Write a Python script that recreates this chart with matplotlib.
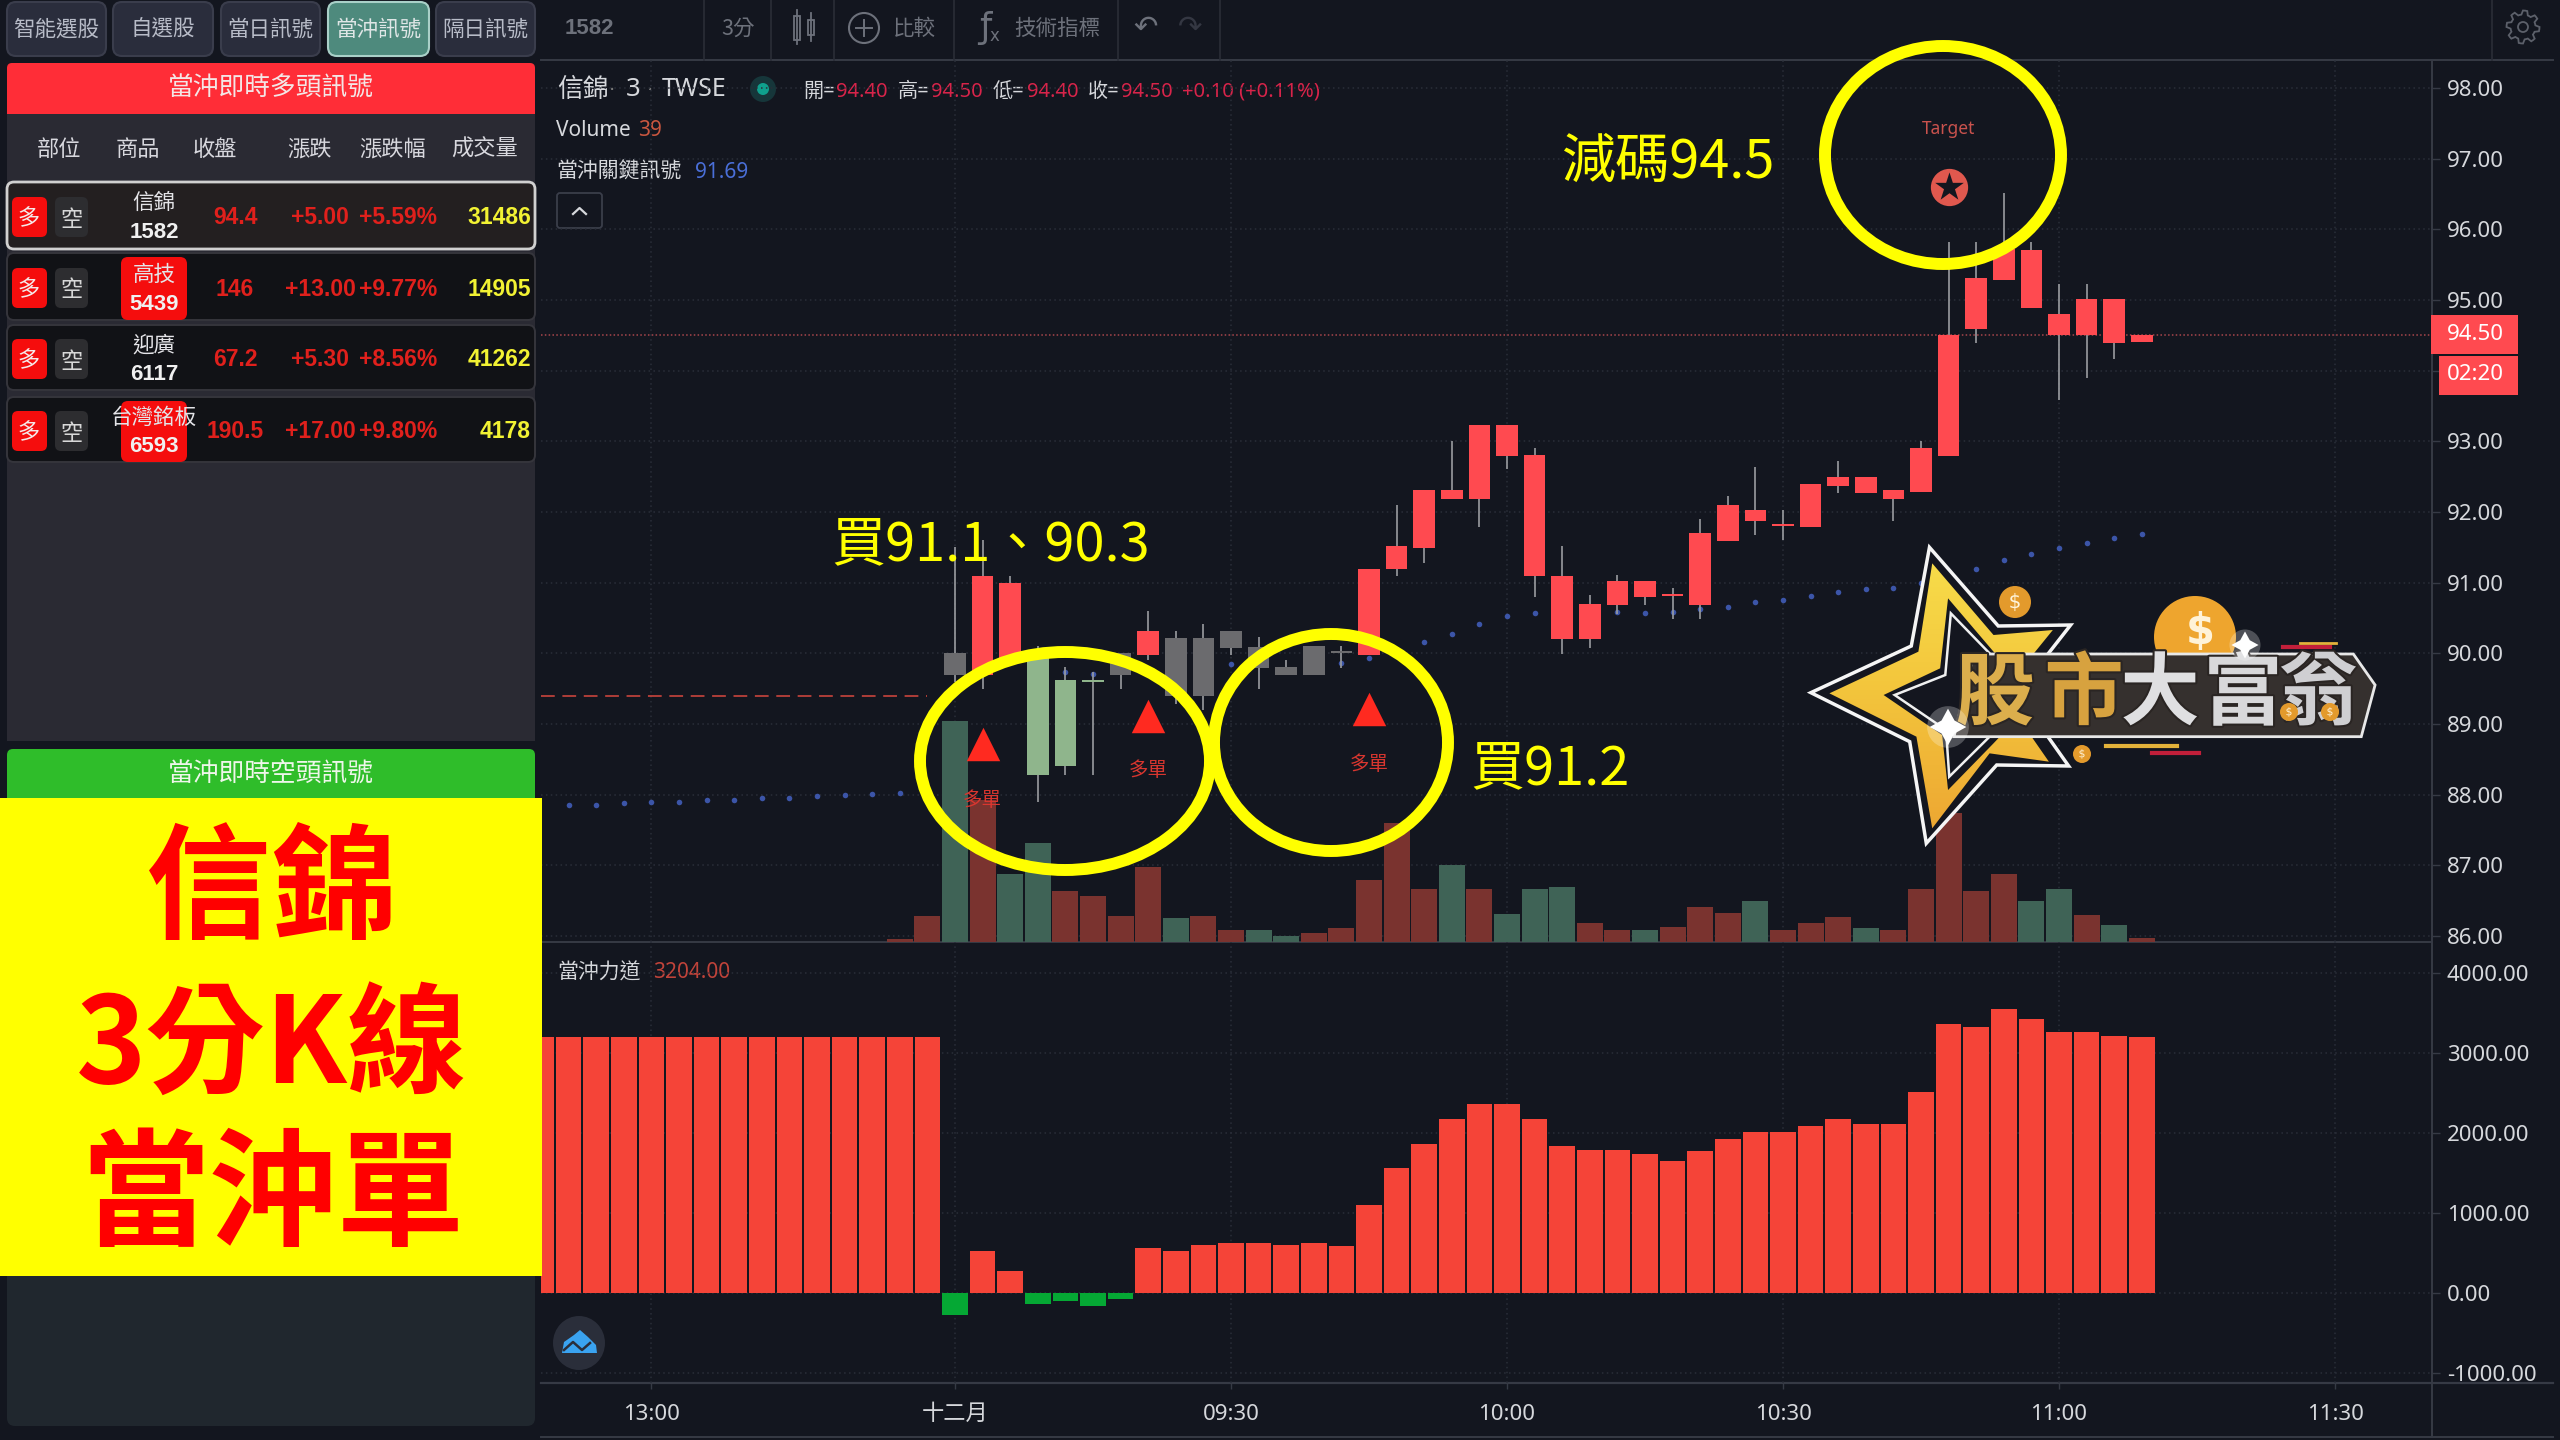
import numpy as np
import matplotlib
matplotlib.use("Agg")
import matplotlib.pyplot as plt
from matplotlib.patches import Rectangle, FancyBboxPatch, Circle, Ellipse, Polygon
from matplotlib.colors import LinearSegmentedColormap
import matplotlib.patheffects as pe

plt.rcParams['font.family'] = ['Noto Sans CJK TC', 'DejaVu Sans']

# ---------- data ----------
candle_idx = list(range(44))
body_hi = [90.00,91.10,91.00,89.98,89.62,89.60,90.00,90.32,90.22,90.22,90.32,90.09,89.81,90.10,90.00,91.20,
           91.52,92.31,92.31,93.23,93.23,92.81,91.10,90.70,91.02,91.02,90.81,91.71,92.10,92.03,91.80,92.40,
           92.50,92.50,92.31,92.91,94.50,95.31,95.72,95.71,94.80,95.02,95.02,94.50]
body_lo = [89.69,89.70,89.90,88.28,88.40,89.60,89.69,89.98,89.39,89.39,90.08,89.79,89.69,89.69,90.00,89.98,
           91.19,91.49,92.19,92.19,92.79,91.09,90.20,90.20,90.68,90.80,90.81,90.68,91.59,91.88,91.80,91.79,
           92.37,92.27,92.19,92.28,92.79,94.59,95.29,94.88,94.50,94.50,94.39,94.40]
wick_hi = [91.50,91.60,91.10,90.10,89.80,89.74,90.00,90.60,90.32,90.41,90.32,90.23,89.90,90.10,90.10,91.20,
           92.10,92.31,93.00,93.23,93.23,92.91,91.52,90.83,91.11,91.02,90.93,91.90,92.22,92.63,92.03,92.40,
           92.72,92.50,92.31,93.00,95.82,95.82,96.51,95.82,95.22,95.22,95.02,94.50]
wick_lo = [89.60,89.50,89.90,87.90,88.28,88.28,89.50,89.90,89.29,89.20,89.98,89.50,89.69,89.69,89.79,89.98,
           91.09,91.28,92.19,91.79,92.61,90.80,89.99,90.07,90.55,90.68,90.48,90.48,91.59,91.68,91.60,91.79,
           92.27,92.27,91.88,92.28,92.79,94.39,95.29,94.88,93.59,93.90,94.17,94.40]
candle_kind = list("grrpppgrggggggg" + "r" * 29)   # g=gray, r=red, p=pale green

volume_idx = [-2,-1] + candle_idx
volume = [25,260,2210,1420,680,990,510,460,260,750,240,260,120,120,60,90,140,620,1190,530,770,530,280,530,550,190,
          120,120,150,350,290,410,120,190,250,140,120,530,1290,510,680,410,530,270,170,40]
volume_up = {0,2,3,8,11,12,18,20,21,22,25,29,33,39,40,42}

power_idx = list(range(-15, 44))
power = [3200]*15 + [-280,520,270,-135,-95,-160,-70,560,520,605,625,625,605,625,585,1095,1560,1860,2180,2365,2365,2180,
                     1835,1790,1790,1735,1645,1775,1920,2010,2010,2090,2175,2110,2110,2510,3360,3320,3555,3425,3260,3260,3215,3204]

dot_idx = [-14,-13,-12,-11,-10,-9,-8,-7,-6,-5,-4,-3,-2,4,5,10,14,15,17,18,19,20,21,24,25,26,27,28,29,30,31,32,33,34,35,37,38,39,40,41,42,43]
dot_val = [87.85,87.86,87.88,87.89,87.90,87.92,87.93,87.95,87.96,87.98,87.99,88.01,88.02,89.74,89.71,89.85,89.87,89.94,
           90.16,90.27,90.42,90.53,90.57,90.59,90.57,90.59,90.63,90.66,90.72,90.76,90.81,90.87,90.91,90.93,91.00,
           91.20,91.32,91.41,91.49,91.56,91.63,91.69]

signal_idx = [1, 7, 15]
signal_price = [88.72, 89.11, 89.21]
signal_label_price = [87.92, 88.34, 88.43]
last_price = 94.50
prev_close = 89.39
target_idx, target_price, target_label_price = 36, 96.60, 97.42

price_ticks = [86,87,88,89,90,91,92,93,94,95,96,97,98]
power_ticks = [-1000,0,1000,2000,3000,4000]
time_ticks = [-11,0,10,20,30,40,50]
time_labels = ['13:00','十二月','09:30','10:00','10:30','11:00','11:30']

table_heads = ['部位','商品','收盤','漲跌','漲跌幅','成交量']
names = ['信錦','高技','迎廣','台灣銘板']
codes = ['1582','5439','6117','6593']
closes = ['94.4','146','67.2','190.5']
changes = ['+5.00','+13.00','+5.30','+17.00']
pcts = ['+5.59%','+9.77%','+8.56%','+9.80%']
vols = ['31486','14905','41262','4178']
tabs = ['智能選股','自選股','當日訊號','當沖訊號','隔日訊號']

# ---------- palette ----------
BG = '#13161f'; GRID = '#2a2e39'; AX = '#363a45'; TXT = '#d6d8dc'
RED = '#ff4a50'; VUP = '#3f6356'; VDN = '#7a332f'
BOLD = 'Liberation Sans'

fig = plt.figure(figsize=(25.6, 14.4), dpi=100, facecolor=BG)
W, H = 2560, 1440

def make_px_axes(z):
    a = fig.add_axes([0, 0, 1, 1], zorder=z)
    a.set_xlim(0, W); a.set_ylim(H, 0); a.axis('off'); a.patch.set_visible(False)
    return a

bg = make_px_axes(0)
top = make_px_axes(5)

def axes_rect(x0, y0, x1, y1):
    return [x0/W, 1 - y1/H, (x1-x0)/W, (y1-y0)/H]

def T(a, x, y, s, size, color=TXT, ha='center', va='center', **kw):
    return a.text(x, y + 2, s, fontsize=size, color=color, ha=ha, va=va, **kw)

def RR(a, x0, y0, x1, y1, r=6, fc='none', ec='none', lw=0, **kw):
    p = FancyBboxPatch((x0+r, y0+r), x1-x0-2*r, y1-y0-2*r, boxstyle=f'round,pad={r},rounding_size={r}',
                       fc=fc, ec=ec, lw=lw, mutation_aspect=1, **kw)
    a.add_patch(p); return p

# ---------- price pane ----------
X0, X1 = -15.0, (2432-955)/27.6
ax = fig.add_axes(axes_rect(541, 60, 2432, 942), zorder=1)
ax.patch.set_visible(False)
ax.set_xlim(X0, X1)
PY = 70.67
ax.set_ylim(98-(942-88)/PY, 98+(88-60)/PY)
base = ax.get_ylim()[0]
vscale = 1/(PY*10)

ax.bar(volume_idx, np.array(volume)*vscale, bottom=base, width=0.94,
       color=[VUP if i in volume_up else VDN for i in volume_idx], zorder=1)
ax.scatter(dot_idx, dot_val, s=16, color='#3c55a8', zorder=2, linewidths=0)
ax.hlines(prev_close, -15, -1, color='#d9483f', lw=1.1, linestyles=[(0, (9, 5))], zorder=2)
ax.axhline(last_price, color='#a8464c', lw=1.1, ls=(0, (1, 1.5)), zorder=2)

kind_col = {'g': '#6b6b6e', 'r': RED, 'p': '#8fb58c'}
ax.vlines(candle_idx, wick_lo, wick_hi, color='#9a9ca0', lw=1.2, zorder=3)
hts = np.maximum(np.array(body_hi) - np.array(body_lo), 0.03)
ax.bar(candle_idx, hts, bottom=body_lo, width=0.78, color=[kind_col[k] for k in candle_kind], zorder=4)

ax.scatter(signal_idx, signal_price, marker='^', s=580, color='#ff2a20', linewidths=0, zorder=5)
for i, p in zip(signal_idx, signal_label_price):
    ax.text(i, p, '多單', fontsize=14, color='#d9362f', ha='center', va='center', zorder=5)

ax.scatter([target_idx], [target_price], s=720, color='#e0584e', zorder=5, linewidths=0)
ax.scatter([target_idx], [target_price], marker='*', s=470, color='#14161f', zorder=6, linewidths=0)
ax.text(target_idx, target_label_price, 'Target', fontsize=12.5, color='#c9524d', ha='center', va='center',
        family='Noto Sans', zorder=5)

ax.set_yticks(price_ticks)
ax.set_yticklabels([f'{v:.2f}' for v in price_ticks], family='Noto Sans')
ax.set_xticks(time_ticks)
ax.grid(True, color=GRID, lw=1.1, ls=(0, (1, 2.2)), zorder=0)
ax.set_axisbelow(True)
ax.yaxis.tick_right()
ax.tick_params(axis='y', length=5.7, width=1, color=AX, labelcolor=TXT, labelsize=16, pad=5)
ax.tick_params(axis='x', length=0, labelbottom=False)
for s in ax.spines.values():
    s.set_visible(False)

# ---------- power pane ----------
ax2 = fig.add_axes(axes_rect(541, 942, 2432, 1383), zorder=1)
ax2.patch.set_visible(False)
ax2.set_xlim(X0, X1)
ax2.set_ylim((1293-1383)/0.08, (1293-942)/0.08)
ax2.bar(power_idx, power, width=0.93, color=['#f54438' if v >= 0 else '#05a834' for v in power], zorder=2)
ax2.set_yticks(power_ticks)
ax2.set_yticklabels([f'{v:.2f}' for v in power_ticks], family='Noto Sans')
ax2.set_xticks(time_ticks)
ax2.set_xticklabels(time_labels, family=['Noto Sans', 'Noto Sans CJK TC'])
ax2.grid(True, color=GRID, lw=1.1, ls=(0, (1, 2.2)), zorder=0)
ax2.set_axisbelow(True)
ax2.yaxis.tick_right()
ax2.tick_params(axis='y', length=5.7, width=1, color=AX, labelcolor=TXT, labelsize=16, pad=5)
ax2.tick_params(axis='x', length=4, width=1, color=AX, labelcolor=TXT, labelsize=16, pad=11)
for s in ax2.spines.values():
    s.set_visible(False)

# ---------- frame lines ----------
bg.plot([541, 2553], [60, 60], color=AX, lw=1.4)
bg.plot([2432, 2432], [60, 1437], color=AX, lw=1.4)
bg.plot([541, 2432], [942, 942], color=AX, lw=1.4)
bg.plot([541, 2553], [1383, 1383], color=AX, lw=1.6)
bg.plot([541, 2553], [1437, 1437], color=AX, lw=1.4)
for sx in [704, 771, 834, 954, 1118, 1220, 2492]:
    bg.plot([sx, sx], [0, 60], color='#2a2d37', lw=1.2)

# ---------- toolbar ----------
G = '#6d717b'
T(bg, 589, 26, '1582', 16, G, family=BOLD, fontweight='bold')
T(bg, 738, 27, '3分', 15.5, G)
bg.add_patch(Rectangle((794, 16), 6, 24, fc='none', ec=G, lw=1.3))
bg.add_patch(Rectangle((808, 20), 6, 15, fc='none', ec=G, lw=1.3))
bg.plot([797, 797], [10, 44], color=G, lw=1.3); bg.plot([811, 811], [13, 41], color=G, lw=1.3)
bg.add_patch(Circle((864, 28), 15, fc='none', ec=G, lw=1.5))
bg.plot([856, 872], [28, 28], color=G, lw=1.4); bg.plot([864, 864], [20, 36], color=G, lw=1.4)
T(bg, 914, 27, '比較', 15.5, G)
T(bg, 985, 26, 'ƒ', 25, G, family='DejaVu Sans'); T(bg, 994, 34, 'x', 12, G, family='DejaVu Sans')
T(bg, 1057, 27, '技術指標', 15.5, G)
T(bg, 1146, 26, '↶', 21, G, family='DejaVu Sans'); T(bg, 1190, 26, '↷', 21, '#343742', family='DejaVu Sans')
ang = np.linspace(0, 2*np.pi, 48, endpoint=False)
rad = np.where((np.arange(48) % 6) < 3, 16.5, 12.5)
bg.add_patch(Polygon(np.c_[2523+rad*np.cos(ang), 27+rad*np.sin(ang)], closed=True, fc='none', ec='#5c606a', lw=1.3))
bg.add_patch(Circle((2523, 27), 5, fc='none', ec='#5c606a', lw=1.3))

# ---------- legends on chart ----------
T(bg, 557, 88, '信錦', 18.5, TXT, ha='left')
T(bg, 612, 88, '·', 14, '#777', ha='center', family='DejaVu Sans')
T(bg, 633, 88, '3', 18.5, TXT, family='Noto Sans')
T(bg, 650, 88, '·', 14, '#777', ha='center', family='DejaVu Sans')
T(bg, 662, 88, 'TWSE', 18, TXT, ha='left', family='Noto Sans')
bg.add_patch(Circle((763, 89), 13, fc='#16363a', ec='none'))
bg.add_patch(Circle((763, 89), 6, fc='#0fa08d', ec='none'))
for tx, s, c in [(803,'開=',TXT),(836,'94.40','#d8244a'),(898,'高=',TXT),(931,'94.50','#d8244a'),(993,'低=',TXT),
                 (1027,'94.40','#d8244a'),(1088,'收=',TXT),(1121,'94.50','#d8244a'),(1182,'+0.10 (+0.11%)','#d8244a')]:
    T(bg, tx, 90, s, 14.5, c, ha='left', family=['Noto Sans', 'Noto Sans CJK TC'])
T(bg, 556, 129, 'Volume', 15, TXT, ha='left', family='Noto Sans')
T(bg, 638, 129, '39', 15, '#c9563f', ha='left', family='Noto Sans')
T(bg, 556, 170, '當沖關鍵訊號', 15, TXT, ha='left')
T(bg, 695, 170, '91.69', 15, '#4a6fd8', ha='left', family='Noto Sans')
RR(bg, 557, 193, 602, 228, r=3, fc='none', ec='#3a3e4a', lw=1.3)
bg.plot([573, 579.5, 586], [214, 208, 214], color=TXT, lw=1.6)
T(bg, 557, 971, '當沖力道', 15, TXT, ha='left')
T(bg, 653, 971, '3204.00', 15, '#c0433a', ha='left', family='Noto Sans')
bg.add_patch(Ellipse((579, 1343), 52, 54, fc='#2a2e3a', ec='none'))
bg.add_patch(Polygon([(562,1353),(564,1342),(574,1335),(580,1330),(588,1337),(596,1345),(597,1353)], closed=True, fc='#3aa3f0', ec='none'))
bg.plot([564, 573, 582, 590], [1350, 1342, 1350, 1343], color='#2a2e3a', lw=1.8, zorder=4)

# ---------- price badges ----------
top.add_patch(Rectangle((2431, 315), 87, 39, fc=RED, ec='none'))
top.add_patch(Rectangle((2439, 356), 79, 39, fc=RED, ec='none'))
T(top, 2475, 333, '94.50', 16, '#ffffff', family='Noto Sans')
T(top, 2475, 373, '02:20', 16, '#ffffff', family='Noto Sans')

# ---------- left side ----------
LF = '#b8bcc8'
tab_x = [(7,106),(113,213),(221,320),(328,429),(436,535)]
for k, ((a, b), s) in enumerate(zip(tab_x, tabs)):
    active = k == 3
    RR(bg, a, 2, b, 56, r=9, fc='#4e8a7d' if active else '#2a2d3c', ec='#a9d0c8' if active else '#3a3d4c', lw=1.5)
    T(bg, (a+b)/2, 28, s, 15.5, '#dfe6e6' if active else LF)
bg.add_patch(Rectangle((7, 70), 528, 671, fc='#2a2a33', ec='none'))
RR(bg, 7, 63, 535, 114, r=5, fc='#ff2d37', ec='none')
bg.add_patch(Rectangle((7, 95), 528, 19, fc='#ff2d37', ec='none'))
T(bg, 271, 87, '當沖即時多頭訊號', 18.5, '#f4e6e6')
for x, s in zip([59, 138, 215, 309, 393, 485], table_heads):
    T(bg, x, 147, s, 16, '#d8d8de')

row_box = [(182,249),(253,320),(325,390),(397,462)]
row_y = [217, 288, 359, 431]
name_y = [(201,232),(273,303),(344,374),(416,445)]
for k in range(4):
    y0, y1 = row_box[k]
    sel = k == 0
    RR(bg, 7, y0, 535, y1, r=7, fc='#231f20' if sel else '#111216', ec='#d0d0d0' if sel else '#35353c', lw=2 if sel else 1.4)
    cy = row_y[k]
    RR(bg, 12, cy-20, 47, cy+20, r=6, fc='#f50d0d')
    RR(bg, 55, cy-20, 88, cy+20, r=6, fc='#2d2d30')
    T(bg, 29, cy, '多', 16, '#f5e9e9')
    T(bg, 71, cy, '空', 16, '#d8d8d8')
    if k in (1, 3):
        RR(bg, 121, y0+4, 187, y1, r=7, fc='#f50d0d')
    T(bg, 154, name_y[k][0], names[k], 15.5, '#e4e4e8')
    T(bg, 154, name_y[k][1]-1, codes[k], 16, '#f0f0f0', family=BOLD, fontweight='bold')
    T(bg, 235, cy-1, closes[k], 16.5, '#e0201c', family=BOLD, fontweight='bold')
    T(bg, 320, cy-1, changes[k], 16.5, '#e0201c', family=BOLD, fontweight='bold')
    T(bg, 398, cy-1, pcts[k], 16.5, '#e0201c', family=BOLD, fontweight='bold')
    T(bg, 531, cy-1, vols[k], 16.5, '#f2f233', ha='right', family=BOLD, fontweight='bold')

RR(bg, 7, 749, 535, 810, r=6, fc='#2fbd2a')
T(bg, 271, 773, '當沖即時空頭訊號', 18.5, '#eef6ea')
RR(bg, 7, 1260, 535, 1426, r=8, fc='#20272e')

top.add_patch(Rectangle((0, 798), 542, 478, fc='#ffff00', ec='none'))
T(top, 271, 890, '信錦', 90, '#ff0000', fontweight='bold')
T(top, 272, 1046, '3分K線', 86, '#ff0000', fontweight='bold')
T(top, 273, 1197, '當沖單', 92, '#ff0000', fontweight='bold')

# ---------- yellow annotations ----------
Y = '#ffff00'
for (a, b, c, d) in [(914, 1216, 646, 876), (1208, 1454, 628, 857), (1819, 2067, 40, 270)]:
    top.add_patch(Ellipse(((a+b)/2, (c+d)/2), b-a-12, d-c-12, fc='none', ec=Y, lw=8.6))
T(top, 991, 543, '買91.1、90.3', 39, Y)
T(top, 1669, 160, '減碼94.5', 39, Y)
T(top, 1550, 767, '買91.2', 39, Y)

# ---------- logo ----------
def Z(pts):
    return [(1780 + px/2.529, 520 + py/3) for px, py in pts]
star_o = [(378,82),(552,318),(735,315),(600,520),(730,738),(548,735),(370,970),(328,665),(78,518),(332,378)]
star_i = [(385,130),(540,345),(690,330),(560,520),(680,725),(530,700),(385,925),(345,650),(125,520),(350,395)]
hole = [(425,235),(540,395),(660,520),(540,670),(425,810),(410,645),(262,525),(405,445)]
hole2 = [(432,280),(530,400),(630,520),(530,650),(428,770),(420,630),(290,525),(418,465)]
top.add_patch(Polygon(Z(star_o), closed=True, fc='#14161f', ec='#f5f5f5', lw=2.5, zorder=2))
star_clip = Polygon(Z(star_i), closed=True, fc='none', ec='none', transform=top.transData)
top.add_patch(star_clip)
gold = LinearSegmentedColormap.from_list('gold', ['#f8e04c', '#f3c53c', '#eda532'])
im = top.imshow(np.linspace(0, 1, 64)[:, None], cmap=gold, extent=(1800, 2090, 840, 540), aspect='auto', zorder=2.1)
im.set_clip_path(star_clip)
top.set_xlim(0, W); top.set_ylim(H, 0)
top.add_patch(Polygon(Z(hole), closed=True, fc='#14161f', ec='none', zorder=2.2))
top.add_patch(Polygon(Z(hole2), closed=True, fc='#14161f', ec='#f0f0f0', lw=1.8, zorder=2.3))
top.add_patch(Circle((2195, 637), 41, fc='#eea52e', ec='none', zorder=2.4))
top.text(2200, 632, '$', fontsize=30, color='#fff3d8', fontweight='bold', family='DejaVu Sans',
         ha='center', va='center', zorder=2.5)
top.add_patch(Polygon(Z([(490,402),(1450,402),(1505,495),(1470,650),(440,650)]), closed=True,
                      fc='#35302e', ec='#e8e8e8', lw=2, zorder=2.6))
for x, s, c in [(1995,'股','#dcae4c'),(2084,'市','#d7a23f'),(2160,'大','#dfdfe1'),(2243,'富','#d8d8da'),(2318,'翁','#cfcfd2')]:
    top.text(x, 695, s, fontsize=57, color=c, fontweight='bold', ha='center', va='center', zorder=2.7,
             path_effects=[pe.withStroke(linewidth=3, foreground='#2a2523')])
coins_x = [2015, 2082, 2289, 2330]
coins_y = [602, 754, 712, 712]
coins_r = [16, 9, 9, 9]
for cx, cy, r in zip(coins_x, coins_y, coins_r):
    top.add_patch(Circle((cx, cy), r, fc='#e39a2c', ec='none', zorder=2.8))
top.scatter(coins_x, coins_y, marker=r'$\$$', s=[170, 50, 50, 50], color='#fff3d8', linewidths=0, zorder=2.9)
top.plot([2106, 2177], [746, 746], color='#e3b23a', lw=3)
top.plot([2152, 2199], [753, 753], color='#c21f3a', lw=3)
top.plot([2283, 2330], [647, 647], color='#c21f3a', lw=3)
top.plot([2300, 2336], [643, 643], color='#e3b23a', lw=2)
sp_x, sp_y = [1948, 2245], [727, 645]
top.scatter(sp_x, sp_y, s=[900, 500], color='#ffffff', alpha=0.25, marker='o', linewidths=0, zorder=3)
top.scatter(sp_x, sp_y, s=[700, 380], color='#ffffff', marker=(4, 1, 0), linewidths=0, zorder=3.1)

fig.savefig('out.png', dpi=100, facecolor=BG)
